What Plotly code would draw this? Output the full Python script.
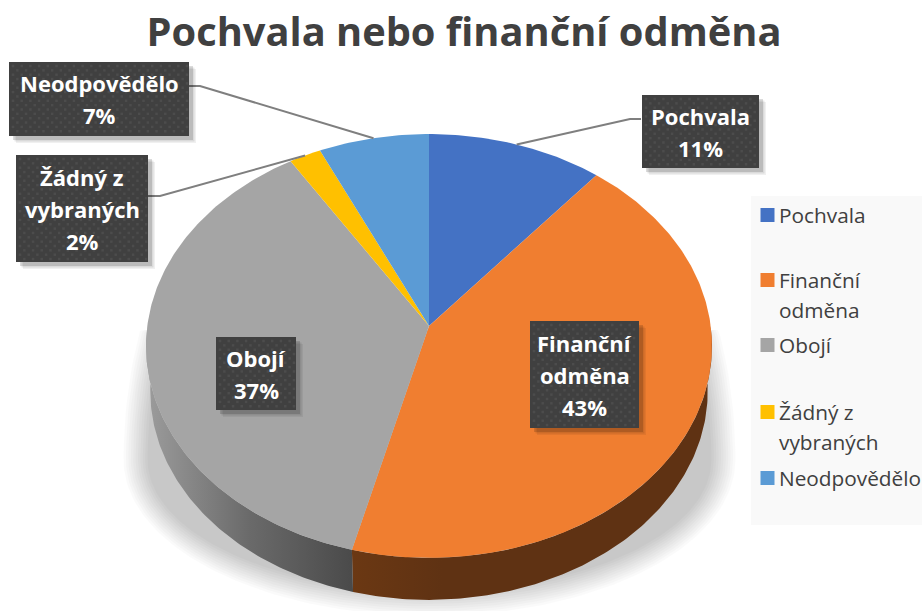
import numpy as np
import plotly.graph_objects as go

# ---- data ----
categories = ["Pochvala", "Finanční odměna", "Obojí", "Žádný z vybraných", "Neodpovědělo"]
values = [11, 43, 37.1, 2, 6.9]
legend_lines = [["Pochvala"], ["Finanční", "odměna"], ["Obojí"], ["Žádný z", "vybraných"], ["Neodpovědělo"]]
title_text = "Pochvala nebo finanční odměna"

# ---- styles / layout ----
colors = ["#4472C4", "#F07E30", "#A5A5A5", "#FFC000", "#5B9BD5"]
FONT = "Open Sans"
CX, CY, RX, RY, K = 429.0, 326.0, 281.7, 210.0, 0.0943
DY, S = 45.5, 0.985
legend_y = [215, 280, 345, 412, 478]
legend_x = 767.5
boxes = [  # x0, y0, x1, y1 of the label boxes
    (642, 95, 759, 168), (530, 321, 639, 428), (216, 337, 296, 410),
    (16, 155, 148, 262), (9, 62, 189, 136),
]
elbows = [((641, 119), (630, 119)), None, None, ((148, 196), (160, 196)), ((189, 86), (200, 86))]


def project(theta, lower=False):
    u, v = np.sin(theta), np.cos(theta)
    w = 1 + K * v
    x, y = RX * u / w, -RY * v / w
    if lower:
        return CX + S * x, CY + DY + S * y
    return CX + x, CY + y


def arc(t0, t1, lower=False):
    return project(np.linspace(t0, t1, max(int(abs(t1 - t0) * 80), 2)), lower)


fig = go.Figure()


def poly(xs, ys, color=None, **kw):
    fig.add_trace(go.Scatter(x=list(xs), y=list(ys), mode="lines", fill="toself",
                             fillcolor=color, line=dict(width=0), hoverinfo="skip",
                             showlegend=False, **kw))


# legend backdrop
poly([751, 922, 922, 751, 751], [196, 196, 525, 525, 196], "#F9F9F9")

# soft ground shadow, flat top hidden behind the pie
for i in range(11):
    inset = i * 2.4
    t = np.linspace(0, 2 * np.pi, 240)
    a, bu, bl = 306 - inset, 400 - inset, 156 - inset
    sx = 429.5 + a * np.cos(t)
    sy = 460 + np.where(np.sin(t) < 0, bu, bl) * np.sin(t)
    poly(sx, np.maximum(sy, 330), "rgba(0,0,0,0.021)")

fracs = np.array(values) / sum(values)
edges = np.concatenate([[0], np.cumsum(fracs)]) * 2 * np.pi
mids = (edges[:-1] + edges[1:]) / 2

# side wall (front slices only)
wall_ranges = {1: (np.pi / 2, edges[2], [[0, "#6B3813"], [0.25, "#5F3213"], [1, "#5F3213"]]),
               2: (edges[2], 3 * np.pi / 2, [[0, "#9C9C9C"], [0.5, "#6A6A6A"], [1, "#4A4A4A"]])}
for idx, (t0, t1, cs) in wall_ranges.items():
    xa, ya = arc(t0, t1)
    xb, yb = arc(t1, t0, lower=True)
    xs, ys = np.concatenate([xa, xb, xa[:1]]), np.concatenate([ya, yb, ya[:1]])
    fig.add_trace(go.Scatter(
        x=xs, y=ys, mode="lines", fill="toself", line=dict(width=0), hoverinfo="skip", showlegend=False,
        fillgradient=dict(type="horizontal", colorscale=cs)))

# top face
for i, c in enumerate(colors):
    xa, ya = arc(edges[i], edges[i + 1])
    poly(np.concatenate([[CX], xa, [CX]]), np.concatenate([[CY], ya, [CY]]), c)

# leader lines
for i, e in enumerate(elbows):
    if e:
        ax, ay = project(mids[i])
        fig.add_trace(go.Scatter(x=[e[0][0], e[1][0], float(ax)], y=[e[0][1], e[1][1], float(ay)],
                                 mode="lines", line=dict(color="#7F7F7F", width=2),
                                 hoverinfo="skip", showlegend=False))

annotations = []


def txt(x, y, s, size, color, bold=False, anchor="center"):
    annotations.append(dict(x=x, y=y, xref="x", yref="y", text=f"<b>{s}</b>" if bold else s,
                            showarrow=False, xanchor=anchor, yanchor="middle",
                            font=dict(family=FONT, size=size, color=color)))


# label boxes
for i, (x0, y0, x1, y1) in enumerate(boxes):
    for off, alpha in ((7, 0.06), (5.5, 0.09), (4, 0.14)):
        poly([x0 + off, x1 + off, x1 + off, x0 + off, x0 + off],
             [y0 + off, y0 + off, y1 + off, y1 + off, y0 + off], f"rgba(0,0,0,{alpha})")
    poly([x0, x1, x1, x0, x0], [y0, y0, y1, y1, y0], "#404040")
    gx, gy = [], []
    for r, yy in enumerate(np.arange(y0 + 4, y1 - 1, 4.35)):
        for xx in np.arange(x0 + 4 + (r % 2) * 4.35, x1 - 1, 8.7):
            gx.append(xx)
            gy.append(yy)
    fig.add_trace(go.Scatter(x=gx, y=gy, mode="markers", hoverinfo="skip", showlegend=False,
                             marker=dict(symbol="square", size=2.5, color="#4C4C4C", line=dict(width=0))))
    lines = legend_lines[i] + [f"{round(values[i])}%"]
    mid = (y0 + y1) / 2
    for j, s in enumerate(lines):
        txt((x0 + x1) / 2, mid + (j - (len(lines) - 1) / 2) * 32, s, 22, "#FFFFFF", bold=True)

# legend
fig.add_trace(go.Scatter(x=[legend_x] * 5, y=legend_y, mode="markers", hoverinfo="skip", showlegend=False,
                         marker=dict(symbol="square", size=14, color=colors, line=dict(width=0))))
for y, ls in zip(legend_y, legend_lines):
    for j, s in enumerate(ls):
        txt(777, y + j * 30, s, 20.8, "#404040", anchor="left")

fig.update_layout(
    width=922, height=611, autosize=False, margin=dict(l=0, r=0, t=0, b=0),
    paper_bgcolor="white", plot_bgcolor="rgba(0,0,0,0)", showlegend=False,
    title=dict(text=f"<b>{title_text}</b>", x=464 / 922, xanchor="center", y=1 - 32 / 611, yanchor="middle",
               font=dict(family=FONT, size=39.8, color="#404040")),
    xaxis=dict(range=[0, 922], visible=False, fixedrange=True),
    yaxis=dict(range=[611, 0], visible=False, fixedrange=True),
    annotations=annotations,
)
fig.write_html("out.html", config={"displayModeBar": False},
               post_script="document.body.style.margin='0';document.body.style.overflow='hidden';")
